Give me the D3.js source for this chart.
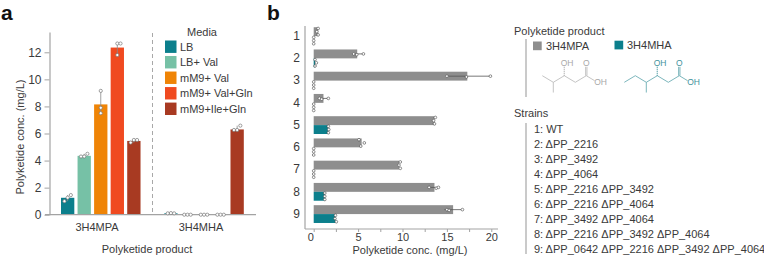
<!DOCTYPE html>
<html>
<head>
<meta charset="utf-8">
<script src="https://cdn.jsdelivr.net/npm/d3@7"></script>
<style>
html, body { margin: 0; padding: 0; background: #fff; }
svg { display: block; }
text { font-family: "Liberation Sans", Arial, sans-serif; fill: #3a3a3a; }
</style>
</head>
<body>
<div id="viz"></div>
<script>
// panel a
const products = ["3H4MPA", "3H4MHA"];
const media = ["LB", "LB+ Val", "mM9+ Val", "mM9+ Val+Gln", "mM9+Ile+Gln"];
const mediaColors = ["#0b7f8c", "#76c1a6", "#ef8406", "#f04a20", "#a83a22"];
const mpaMeans = [1.25, 4.35, 8.15, 12.35, 5.45];
const mhaMeans = [0.1, 0, 0, 0, 6.3];
const mpaReps = [[1.0, 1.26, 1.45], [4.3, 4.3, 4.5], [7.5, 7.9, 9.15], [11.8, 12.65, 12.65], [5.33, 5.52, 5.52]];
const mhaReps = [[0.1, 0.12, 0.1], [0, 0, 0], [0, 0, 0], [0, 0, 0], [6.26, 6.26, 6.58]];
const yTicksA = [0, 2, 4, 6, 8, 10, 12];

// panel b
const strainIds = ["1", "2", "3", "4", "5", "6", "7", "8", "9"];
const mpaStrain = [0.5, 4.9, 17.3, 1.1, 13.6, 5.4, 9.6, 13.6, 15.7];
const mhaStrain = [0, 0.15, 0, 0, 1.65, 0, 0, 1.25, 2.45];
const mpaStrainReps = [
    [0.5, 0.35, 0.5], [4.5, 4.85, 5.6], [15, 17.2, 19.9], [0.65, 0.9, 1.65], [13.7, 13.5, 13.6],
    [5.1, 5.7, 5.3], [9.75, 9.6, 9.75], [13, 13.8, 14.05], [15, 15.25, 16.75]
];
const mhaStrainReps = [
    [0, 0, 0], [0.15, 0.3, 0.15], [0, 0, 0], [0, 0, 0], [1.65, 1.7, 1.65],
    [0, 0, 0], [0, 0, 0], [1.25, 1.25, 1.25], [2.45, 2.4, 2.55]
];
const xTicksB = [0, 2.5, 5, 7.5, 10, 12.5, 15, 17.5, 20];
const xLabelsB = [0, 5, 10, 15, 20];
const strainNames = [
    "1: WT", "2: ΔPP_2216", "3: ΔPP_3492", "4: ΔPP_4064", "5: ΔPP_2216 ΔPP_3492",
    "6: ΔPP_2216 ΔPP_4064", "7: ΔPP_3492 ΔPP_4064", "8: ΔPP_2216 ΔPP_3492 ΔPP_4064",
    "9: ΔPP_0642 ΔPP_2216 ΔPP_3492 ΔPP_4064"
];

const width = 764;
const height = 256;
const axisColor = "#a3a3a3";
const gray = "#8e8e8e";
const teal = "#0c7f8c";
const textSize = 11;

const svg = d3.select("#viz").append("svg")
    .attr("width", width)
    .attr("height", height);

function label(x, y, txt, size, anchor) {
    return svg.append("text")
        .attr("x", x).attr("y", y)
        .attr("dy", "0.35em")
        .attr("text-anchor", anchor || "start")
        .attr("font-size", size)
        .text(txt);
}

function cleanAxis(g) {
    g.select(".domain").attr("stroke", axisColor).attr("stroke-width", 1.2);
    g.selectAll(".tick line").attr("stroke", axisColor);
    g.selectAll(".tick text").style("fill", "#3a3a3a");
}

label(1, 12.6, "a", 21).attr("font-weight", "bold").style("fill", "#111");
label(267, 12.6, "b", 21).attr("font-weight", "bold").style("fill", "#111");

// ---- panel a ----
const yA = d3.scaleLinear().domain([0, 13.5]).range([214.7, 32]);
const x0 = d3.scaleBand().domain(products).range([61, 243.8]).paddingInner(0.23);
const x1 = d3.scaleBand().domain(media).range([0, x0.bandwidth()]).paddingInner(0.196);
const colorA = d3.scaleOrdinal().domain(media).range(mediaColors);

const rowsA = [];
media.forEach((m, i) => {
    rowsA.push({ product: products[0], medium: m, mean: mpaMeans[i], reps: mpaReps[i] });
    rowsA.push({ product: products[1], medium: m, mean: mhaMeans[i], reps: mhaReps[i] });
});
const cx = d => x0(d.product) + x1(d.medium) + x1.bandwidth() / 2;

svg.append("g").selectAll("rect").data(rowsA).enter().append("rect")
    .attr("x", d => x0(d.product) + x1(d.medium))
    .attr("width", x1.bandwidth())
    .attr("y", d => yA(d.mean))
    .attr("height", d => yA(0) - yA(d.mean))
    .attr("fill", d => colorA(d.medium));

svg.append("line")
    .attr("x1", 152.5).attr("x2", 152.5)
    .attr("y1", 33).attr("y2", yA(0))
    .attr("stroke", "#a8a8a8")
    .attr("stroke-dasharray", "4 3");

svg.append("g")
    .attr("transform", "translate(49.5,0)")
    .call(d3.axisLeft(yA).tickValues(yTicksA).tickSize(5).tickSizeOuter(0).tickFormat(d3.format("d")))
    .call(cleanAxis)
    .call(g => g.selectAll(".tick text").attr("font-size", 12).attr("font-family", "Liberation Sans"));

svg.append("line")
    .attr("x1", 45).attr("x2", 256)
    .attr("y1", yA(0)).attr("y2", yA(0))
    .attr("stroke", axisColor).attr("stroke-width", 1.2);

// error lines and replicate dots, the dots spread sideways when they sit close together
const spreadA = [-1, 0, 1];
rowsA.forEach(d => {
    const ext = d3.extent(d.reps);
    svg.append("line")
        .attr("x1", cx(d)).attr("x2", cx(d))
        .attr("y1", yA(ext[0])).attr("y2", yA(ext[1]))
        .attr("stroke", "#8a8a8a").attr("stroke-width", 0.8);
    svg.append("g").selectAll("circle").data(d.reps).enter().append("circle")
        .attr("cx", (v, i) => {
            const near = d.reps.filter(o => Math.abs(o - v) < 0.35).length;
            return near === 1 ? cx(d) : cx(d) + spreadA[i] * 3.2;
        })
        .attr("cy", v => yA(v))
        .attr("r", 1.6)
        .attr("fill", "#fff")
        .attr("stroke", "#777")
        .attr("stroke-width", 0.7);
});

label(97, 227, products[0], textSize, "middle");
label(201, 227, products[1], textSize, "middle");
label(147, 249, "Polyketide product", textSize, "middle");
svg.append("text")
    .attr("transform", "translate(20,137) rotate(-90)")
    .attr("text-anchor", "middle")
    .attr("dy", "0.35em")
    .attr("font-size", textSize)
    .text("Polyketide conc. (mg/L)");

label(202, 32, "Media", textSize, "middle");
const legendY = d3.scaleBand().domain(media).range([40.5, 115]).paddingInner(0.2);
svg.append("g").selectAll("rect").data(media).enter().append("rect")
    .attr("x", 165).attr("width", 11.5)
    .attr("y", d => legendY(d))
    .attr("height", legendY.bandwidth())
    .attr("fill", d => colorA(d));
media.forEach(m => label(180, legendY(m) + legendY.bandwidth() / 2, m, textSize));

// ---- panel b ----
const xB = d3.scaleLinear().domain([0, 20]).range([313.7, 491.3]);
const yB = d3.scaleBand().domain(strainIds).range([25, 225.2]).paddingInner(0).paddingOuter(0);
const barH = 8.9;
const bandMid = s => yB(s) + yB.bandwidth() / 2;

svg.append("g").selectAll("rect").data(strainIds).enter().append("rect")
    .attr("x", xB(0))
    .attr("y", s => bandMid(s) - barH)
    .attr("width", (s, i) => xB(mpaStrain[i]) - xB(0))
    .attr("height", barH)
    .attr("fill", gray);
svg.append("g").selectAll("rect").data(strainIds).enter().append("rect")
    .attr("x", xB(0))
    .attr("y", s => bandMid(s))
    .attr("width", (s, i) => xB(mhaStrain[i]) - xB(0))
    .attr("height", barH)
    .attr("fill", teal);

svg.append("g")
    .attr("transform", "translate(305,0)")
    .call(d3.axisLeft(yB).tickSize(0).tickPadding(5))
    .call(cleanAxis)
    .call(g => g.select(".domain").attr("d", "M0,26V229"))
    .call(g => g.selectAll(".tick text").attr("font-size", 12).attr("font-family", "Liberation Sans"));

svg.append("g")
    .attr("transform", "translate(0,229)")
    .call(d3.axisBottom(xB).tickValues(xTicksB).tickSize(3).tickPadding(1).tickSizeOuter(0)
        .tickFormat(d => xLabelsB.includes(d) ? d : ""))
    .call(cleanAxis)
    .call(g => g.select(".domain").remove())
    .call(g => g.selectAll(".tick text").attr("font-size", 11).attr("font-family", "Liberation Sans")
        .attr("dx", d => d === 0 ? -3.5 : 0));
svg.append("line")
    .attr("x1", 305).attr("x2", 498).attr("y1", 229).attr("y2", 229)
    .attr("stroke", axisColor).attr("stroke-width", 1.2);

function strainDots(reps, shift) {
    strainIds.forEach((s, i) => {
        const vals = reps[i];
        const ext = d3.extent(vals);
        const mid = bandMid(s) + shift;
        const tight = ext[1] - ext[0] < 0.65;
        const sd = d3.deviation(vals);
        if (!tight) {
            const m = d3.mean(vals);
            svg.append("line")
                .attr("x1", xB(m - sd)).attr("x2", xB(m + sd))
                .attr("y1", mid).attr("y2", mid)
                .attr("stroke", "#555").attr("stroke-width", 0.8);
        }
        svg.append("g").selectAll("circle").data(vals).enter().append("circle")
            .attr("cx", v => xB(v))
            .attr("cy", (v, j) => tight ? mid + (j - 1) * 3.2 : mid + (j === 1 ? 0.8 : 0))
            .attr("r", 1.35)
            .attr("fill", "#fff")
            .attr("stroke", "#444")
            .attr("stroke-width", 0.6);
    });
}
strainDots(mpaStrainReps, -barH / 2);
strainDots(mhaStrainReps, barH / 2);

label(410, 250, "Polyketide conc. (mg/L)", textSize, "middle");

// ---- right hand side ----
label(514, 31, "Polyketide product", textSize);
svg.append("line").attr("x1", 526).attr("x2", 526).attr("y1", 39).attr("y2", 97)
    .attr("stroke", "#bdbdbd").attr("stroke-width", 1.6);
svg.append("rect").attr("x", 533).attr("y", 41.5).attr("width", 8.7).attr("height", 8.7).attr("fill", gray);
label(546, 46, products[0], textSize);
svg.append("rect").attr("x", 614.5).attr("y", 40.7).attr("width", 8.7).attr("height", 8.7).attr("fill", teal);
label(627, 45, products[1], textSize);

// the two structures, drawn on a bond grid
const bondX = d3.scaleLinear().domain([0, 1]).range([0, 11]);
const bondY = d3.scaleLinear().domain([0, 1]).range([75.7, 82.3]);
const bondLine = d3.line().x(d => bondX(d[0])).y(d => bondY(d[1]));

function molecule(left, chain, branchAt, ohAt, acidAt, color, textColor) {
    const g = svg.append("g").attr("transform", `translate(${left},0)`)
        .attr("fill", "none").attr("stroke", color).attr("stroke-width", 0.8);
    g.append("path").attr("d", bondLine(chain));
    g.append("path").attr("d", bondLine([[branchAt, 1], [branchAt, 2.55]]));
    g.append("path").attr("d", bondLine([[ohAt, 0], [ohAt, -1.35]])).attr("stroke-dasharray", "1 1").attr("stroke-width", 1.4);
    g.append("path").attr("d", bondLine([[acidAt - 0.06, 0], [acidAt - 0.06, -1.35]]));
    g.append("path").attr("d", bondLine([[acidAt + 0.06, 0], [acidAt + 0.06, -1.35]]));
    const t = [[ohAt + 0.25, -1.85, "OH"], [acidAt, -1.85, "O"], [acidAt + 1.3, 1, "OH"]];
    t.forEach(d => {
        label(left + bondX(d[0]), bondY(d[1]), d[2], 8.5, "middle").style("fill", textColor);
    });
}
molecule(542.3, [[0, 0], [1, 1], [2, 0], [3, 1], [4, 0], [4.75, 0.75]], 1, 2, 4, "#b5b5b5", "#a8a8a8");
molecule(624.3, [[0, 1], [1, 0], [2, 1], [3, 0], [4, 1], [5, 0], [5.75, 0.75]], 2, 3, 5, "#5ba3ab", "#3f929c");

label(514, 113, "Strains", textSize);
svg.append("line").attr("x1", 526).attr("x2", 526).attr("y1", 123).attr("y2", 254)
    .attr("stroke", "#bdbdbd").attr("stroke-width", 1.6);
const strainRow = d3.scalePoint().domain(strainNames).range([128.7, 249.3]);
strainNames.forEach(n => label(534, strainRow(n), n, textSize));
</script>
</body>
</html>
